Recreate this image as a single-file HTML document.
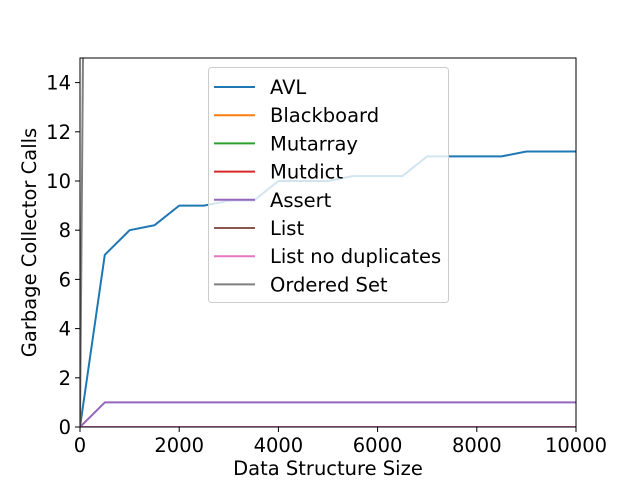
<!DOCTYPE html>
<html><head><meta charset="utf-8"><style>
body{margin:0;background:#fff;font-family:"Liberation Sans","DejaVu Sans",sans-serif}
svg text{font-family:"DejaVu Sans","Liberation Sans",sans-serif}
</style></head><body>
<svg id="chart" width="640" height="480" xmlns="http://www.w3.org/2000/svg">
<rect width="640" height="480" fill="#fff"/>
<g id="plot"></g>
<g id="axes"></g>
<g id="legend"></g>
</svg>
<script>
const xs = [0,500,1000,1500,2000,2500,3000,3500,4000,4500,5000,5500,6000,6500,7000,7500,8000,8500,9000,9500,10000];
const avl = [0,7,8,8.2,9,9,9.2,9.2,10,10,10,10.2,10.2,10.2,11,11,11,11,11.2,11.2,11.2];
const blackboard = [0,0,0,0,0,0,0,0,0,0,0,0,0,0,0,0,0,0,0,0,0];
const mutarray = [0,0,0,0,0,0,0,0,0,0,0,0,0,0,0,0,0,0,0,0,0];
const mutdict = [0,0,0,0,0,0,0,0,0,0,0,0,0,0,0,0,0,0,0,0,0];
const assertS = [0,1,1,1,1,1,1,1,1,1,1,1,1,1,1,1,1,1,1,1,1];
const listS = [0,0,0,0,0,0,0,0,0,0,0,0,0,0,0,0,0,0,0,0,0];
const listNoDup = [0,0,0,0,0,0,0,0,0,0,0,0,0,0,0,0,0,0,0,0,0];
const orderedSet = [0,125,250,375,500,625,750,875,1000,1125,1250,1375,1500,1625,1750,1875,2000,2125,2250,2375,2500];
const seriesNames = ["AVL","Blackboard","Mutarray","Mutdict","Assert","List","List no duplicates","Ordered Set"];
const colors = ["#1f77b4","#ff7f0e","#2ca02c","#d62728","#9467bd","#8c564b","#e377c2","#7f7f7f"];
const xTicks = [0,2000,4000,6000,8000,10000];
const yTicks = [0,2,4,6,8,10,12,14];
const L=80,R=576,T=58,B=427,XMAX=10000,YMAX=15;
const sx=v=>L+(R-L)*v/XMAX, sy=v=>B-(B-T)*v/YMAX;
const NS="http://www.w3.org/2000/svg";
const FS='19.5';
function mk(tag,attrs,parent){const e=document.createElementNS(NS,tag);for(const k in attrs)e.setAttribute(k,attrs[k]);parent.appendChild(e);return e;}
const plot=document.getElementById('plot'),axes=document.getElementById('axes'),leg=document.getElementById('legend');
const defs=mk('defs',{},plot);const cp=mk('clipPath',{id:'cp'},defs);mk('rect',{x:L,y:T,width:R-L,height:B-T},cp);
const data=[avl,blackboard,mutarray,mutdict,assertS,listS,listNoDup,orderedSet];
const g=mk('g',{'clip-path':'url(#cp)'},plot);
data.forEach((ys,i)=>{
  const p=mk('polyline',{points:xs.map((x,j)=>sx(x)+','+sy(ys[j])).join(' '),fill:'none',stroke:colors[i],'stroke-width':2,'stroke-linejoin':'round'},g);
  
  
});
mk('rect',{x:L,y:T,width:R-L,height:B-T,fill:'none',stroke:'#000','stroke-width':1},axes);
xTicks.forEach(t=>{mk('line',{x1:sx(t),x2:sx(t),y1:B,y2:B+5,stroke:'#000'},axes);
  const tx=mk('text',{x:sx(t),y:B+25,'text-anchor':'middle','font-size':FS},axes);tx.textContent=t;
  
  });
yTicks.forEach(t=>{mk('line',{x1:L-5,x2:L,y1:sy(t),y2:sy(t),stroke:'#000'},axes);
  const tx=mk('text',{x:L-9,y:sy(t)+7,'text-anchor':'end','font-size':FS},axes);tx.textContent=t;
  
  });
const xt=mk('text',{x:(L+R)/2,y:475,'text-anchor':'middle','font-size':FS},axes);xt.textContent='Data Structure Size';


const yt=mk('text',{x:36,y:(T+B)/2,'text-anchor':'middle','font-size':FS,transform:'rotate(-90 36 '+(T+B)/2+')'},axes);yt.textContent='Garbage Collector Calls';


mk('rect',{x:208.5,y:67.5,width:240,height:235,rx:3,fill:'#fff','fill-opacity':0.8,stroke:'#ccc'},leg);
seriesNames.forEach((n,i)=>{const y=87+i*28.2;
  const e=mk('g',{},leg);
  
  
  mk('line',{x1:214,x2:255,y1:y,y2:y,stroke:colors[i],'stroke-width':2},e);
  const t=mk('text',{x:270,y:y+7,'font-size':FS},e);t.textContent=n;});
</script>
</body></html>
